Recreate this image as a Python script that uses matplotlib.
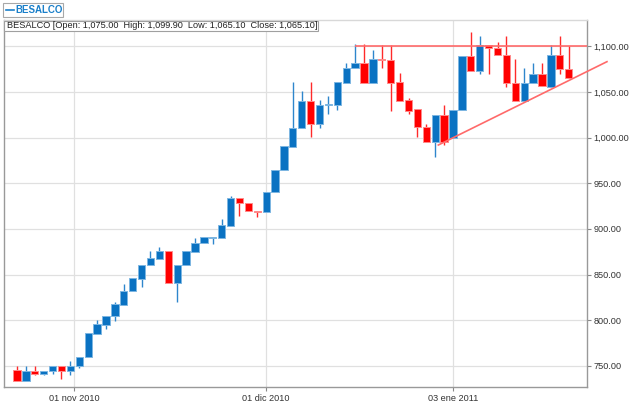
import matplotlib
matplotlib.use("Agg")
import matplotlib.pyplot as plt
from matplotlib.patches import Rectangle
from matplotlib.lines import Line2D
from matplotlib.ticker import FuncFormatter

plt.rcParams["font.family"] = ["Liberation Sans", "DejaVu Sans"]

ticker = "BESALCO"
header = "BESALCO [Open: 1,075.00  High: 1,099.90  Low: 1,065.10  Close: 1,065.10]"

opens = [745.6, 734, 745, 741, 745, 750, 745, 750, 759.5, 785, 795, 805, 817, 832, 845,
         860, 867.5, 876, 840.5, 860, 875, 884.5, 889.7, 889.7, 903, 933.5, 928, 920, 918,
         940, 965, 990, 1010, 1040, 1015, 1035.5, 1035.6, 1060, 1076, 1081, 1060, 1086,
         1085, 1060.5, 1041, 1031, 1011, 995.5, 1024.5, 1000, 1030, 1089, 1073, 1101,
         1098.5, 1090, 1060, 1040, 1060, 1070, 1055.6, 1090, 1075]
highs = [750, 750, 750, 745, 750, 750, 755.5, 760, 786, 800, 805, 820, 839.7, 846, 860.5,
         876, 880.5, 876, 860.5, 876, 889.7, 891, 891, 911, 936, 933.5, 928, 920, 940,
         965, 990.5, 1060.7, 1051, 1060.7, 1041, 1045, 1060.4, 1081, 1102, 1102, 1096,
         1101, 1101, 1071, 1043, 1031, 1015, 1024.5, 1035.5, 1030, 1089.5, 1115.7, 1111,
         1101, 1105, 1111, 1085.5, 1075.7, 1081, 1081, 1101, 1111, 1099.9]
lows = [734, 734, 740, 740, 741.5, 736, 740, 748, 759.5, 785, 791, 799, 817, 831.7, 836.8,
        860, 867.5, 840.5, 820, 860, 875, 884.5, 884, 889.7, 903, 914, 920, 913, 918,
        940, 965, 990, 1010, 1000.5, 1010, 1026, 1029.8, 1060, 1076, 1060, 1060, 1075.7,
        1029, 1040.3, 1026, 1000.5, 995.5, 979, 992, 1000, 1030, 1073, 1070, 1070,
        1090, 1055.6, 1040, 1040, 1060, 1056, 1055.6, 1070, 1065.1]
closes = [734, 745, 741, 745, 750, 745, 750, 760, 785.7, 796, 805, 817.5, 832, 846, 860.5,
          868, 875.5, 840.5, 860.5, 876, 885, 891, 891, 904, 933.5, 928, 920, 918, 940,
          965, 990.5, 1010.7, 1040, 1015, 1036, 1036.5, 1060.4, 1076, 1081, 1060, 1086,
          1084.5, 1060, 1040.3, 1029, 1011, 995.5, 1024.5, 995.5, 1030, 1089.5, 1073, 1101,
          1098, 1090, 1060, 1040, 1060, 1070, 1056, 1090, 1074.6, 1065.1]

date_tick_pos = [6.4, 28, 49]
date_tick_labels = ["01 nov 2010", "01 dic 2010", "03 ene 2011"]
price_ticks = [750, 800, 850, 900, 950, 1000, 1050, 1100]

resistance_level = 1100.0
resistance_start = 38
support_x = [47.35, 66.3]
support_y = [991.8, 1083.0]

UP_BODY = "#0a72c2"
UP_EDGE = "#7db6e2"
UP_WICK = "#2e86cc"
DN_BODY = "#ff0000"
DN_EDGE = "#ff8a8a"
DN_WICK = "#ff2a2a"

W, H = 640, 403
fig = plt.figure(figsize=(W / 100, H / 100), dpi=100)
fig.patch.set_facecolor("white")
ax = fig.add_axes([4 / W, (H - 387) / H, 582.5 / W, 367 / H])

for i, (o, h, l, c) in enumerate(zip(opens, highs, lows, closes)):
    up = c >= o
    wick = UP_WICK if up else DN_WICK
    body = UP_BODY if up else DN_BODY
    edge = UP_EDGE if up else DN_EDGE
    ax.vlines(i, l, h, color=wick, lw=1.0, zorder=2)
    bottom = min(o, c)
    height = max(abs(c - o), 1.4)
    ax.bar(i, height, bottom=bottom, width=0.82, color=body, edgecolor=edge,
           linewidth=0.7, zorder=3)

ax.set_xlim(-1.46, 64.0)
ax.set_ylim(727, 1128.6)

# trend lines
ax.plot([resistance_start, 64.0], [resistance_level, resistance_level],
        color="#ff6a6a", lw=1.2, zorder=4, solid_capstyle="butt")
ax.add_line(Line2D(support_x, support_y, color="#ff6a6a", lw=1.2, zorder=4,
                   clip_on=False))

# axes styling
ax.yaxis.tick_right()
ax.set_yticks(price_ticks)
ax.yaxis.set_major_formatter(FuncFormatter(lambda v, p: f"{v:,.2f}"))
ax.set_xticks(date_tick_pos)
ax.set_xticklabels(date_tick_labels)
ax.tick_params(axis="y", length=3, pad=2, labelsize=6.6, colors="#888888",
               labelcolor="#333333")
ax.tick_params(axis="x", length=3, pad=2, labelsize=6.6, colors="#888888",
               labelcolor="#333333")
ax.grid(True, color="#e0e0e0", lw=0.9)
ax.set_axisbelow(True)
for s in ax.spines.values():
    s.set_color("#999999")
    s.set_linewidth(1.0)
ax.spines["top"].set_color("#d8d8d8")

# header box
fig.patches.append(Rectangle((4 / W, (H - 31) / H), 314 / W, 10.5 / H,
                             transform=fig.transFigure, facecolor="white",
                             edgecolor="#a0a0a0", lw=0.8, zorder=5))
fig.text(7 / W, (H - 25.8) / H, header, fontsize=6.55, color="#222222",
         va="center", ha="left", zorder=6)

# legend box
fig.patches.append(Rectangle((3 / W, (H - 16.5) / H), 60 / W, 13.5 / H,
                             transform=fig.transFigure, facecolor="white",
                             edgecolor="#a8a8a8", lw=0.8, zorder=5))
fig.lines.append(Line2D([6 / W, 14 / W], [(H - 10) / H, (H - 10) / H],
                        transform=fig.transFigure, color="#1a7fc9", lw=1.2,
                        zorder=6))
fig.text(15.5 / W, (H - 9.8) / H, ticker, fontsize=7, fontweight="bold",
         color="#1a7fc9", va="center", ha="left", zorder=6)

fig.savefig("out.png", dpi=100)
